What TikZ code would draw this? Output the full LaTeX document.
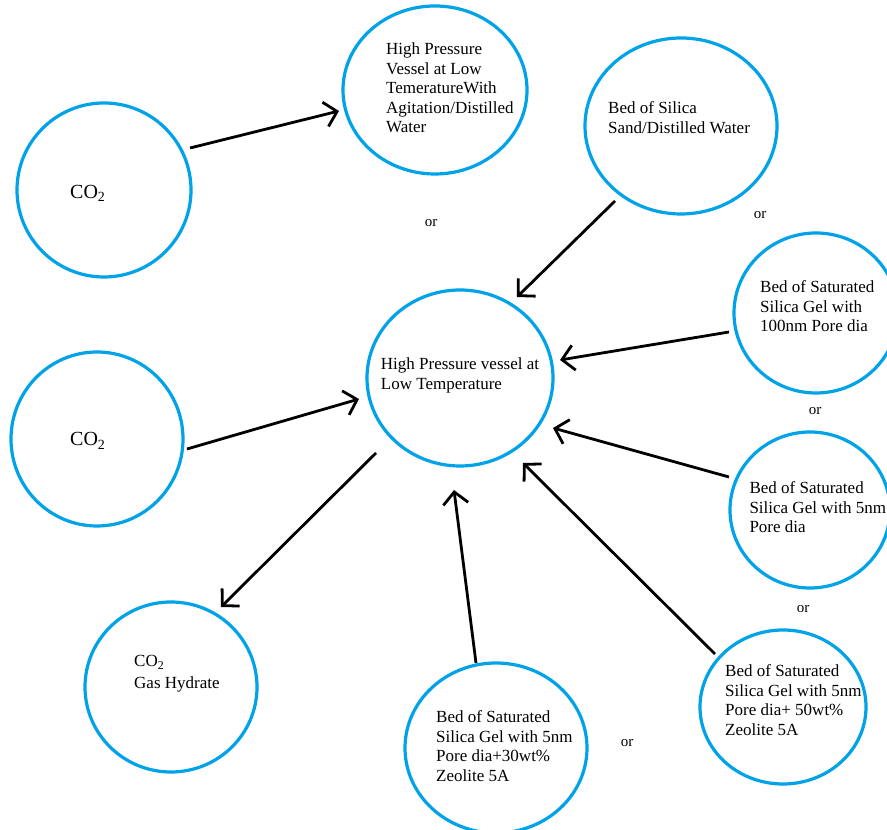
\documentclass[tikz,border=0pt]{standalone}
\usepackage{fontspec}
\setmainfont{Liberation Serif}
\usetikzlibrary{arrows.meta,shapes.geometric}
\definecolor{ringblue}{HTML}{00A2E8}
\begin{document}
\begin{tikzpicture}[x=1pt,y=1pt,
  ring/.style n args={2}{ellipse, draw=ringblue, line width=3.2pt, inner sep=0pt, minimum width=#1, minimum height=#2},
  txt/.style={anchor=north west, inner sep=0pt, align=left, font=\fontsize{17}{19.5}\selectfont},
  bigtxt/.style={anchor=north west, inner sep=0pt, align=left, font=\fontsize{20}{24}\selectfont},
  ortxt/.style={anchor=center, inner sep=0pt, font=\fontsize{15}{18}\selectfont},
  arr/.style={draw=black, line width=2.8pt, -{Straight Barb[length=12pt,width=25pt]}}]
\fill[white] (0,0) rectangle (887,830);
\useasboundingbox (0,0) rectangle (887,830);
% rings
\node[ring={174pt}{174pt}] (co2a) at (104,640) {};
\node[ring={184pt}{168pt}] (hp1) at (435,740) {};
\node[ring={192pt}{176pt}] (silica) at (681,704) {};
\node[ring={186pt}{176pt}] (vessel) at (460,452) {};
\node[ring={164pt}{160pt}] (gel100) at (816,517) {};
\node[ring={160pt}{156pt}] (gel5) at (810,320) {};
\node[ring={166pt}{154pt}] (zeo50) at (783,123) {};
\node[ring={182pt}{170pt}] (zeo30) at (496,82) {};
\node[ring={172pt}{170pt}] (hydrate) at (171,143) {};
\node[ring={172pt}{174pt}] (co2b) at (97,391) {};
% texts
\node[bigtxt] (t-co2a) at (70,645.2) {CO\textsubscript{2}};
\node[txt] (t-hp1) at (386,787.3) {High Pressure\\Vessel at Low\\TemeratureWith\\Agitation/Distilled\\Water};
\node[txt] (t-silica) at (608,728.3) {Bed of Silica\\Sand/Distilled Water};
\node[txt] (t-vessel) at (380.7,472.3) {High Pressure vessel at\\Low Temperature};
\node[txt] (t-gel100) at (760,549.3) {Bed of Saturated\\Silica Gel with\\100nm Pore dia};
\node[txt] (t-gel5) at (749.3,348.3) {Bed of Saturated\\Silica Gel with 5nm\\Pore dia};
\node[txt] (t-zeo50) at (725,165.6) {Bed of Saturated\\Silica Gel with 5nm\\Pore dia+ 50wt\%\\Zeolite 5A};
\node[txt] (t-zeo30) at (436,119.3) {Bed of Saturated\\Silica Gel with 5nm\\Pore dia+30wt\%\\Zeolite 5A};
\node[txt] (t-hydrate) at (134,174.8) {CO\textsubscript{2}\\[2pt]Gas Hydrate};
\node[bigtxt] (t-co2b) at (70,397.5) {CO\textsubscript{2}};
% or labels
\node[ortxt] (or1) at (431,607) {or};
\node[ortxt] (or2) at (760,615) {or};
\node[ortxt] (or3) at (815,419) {or};
\node[ortxt] (or4) at (803,221) {or};
\node[ortxt] (or5) at (627,87) {or};
% arrows
\draw[arr] ([shift={(86,42)}]co2a.center) -- ([shift={(-96,-21)}]hp1.center);
\draw[arr] ([shift={(-66,-75)}]silica.center) -- ([shift={(57,81)}]vessel.center);
\draw[arr] ([shift={(-87,-19)}]gel100.center) -- ([shift={(100,18)}]vessel.center);
\draw[arr] ([shift={(-81,33)}]gel5.center) -- ([shift={(93,-50)}]vessel.center);
\draw[arr] ([shift={(-68,53)}]zeo50.center) -- ([shift={(63,-85)}]vessel.center);
\draw[arr] ([shift={(-20,85)}]zeo30.center) -- ([shift={(-6,-112)}]vessel.center);
\draw[arr] ([shift={(90,-10)}]co2b.center) -- ([shift={(-101,-21)}]vessel.center);
\draw[arr] ([shift={(-84,-75)}]vessel.center) -- ([shift={(50,80)}]hydrate.center);
\end{tikzpicture}
\end{document}
